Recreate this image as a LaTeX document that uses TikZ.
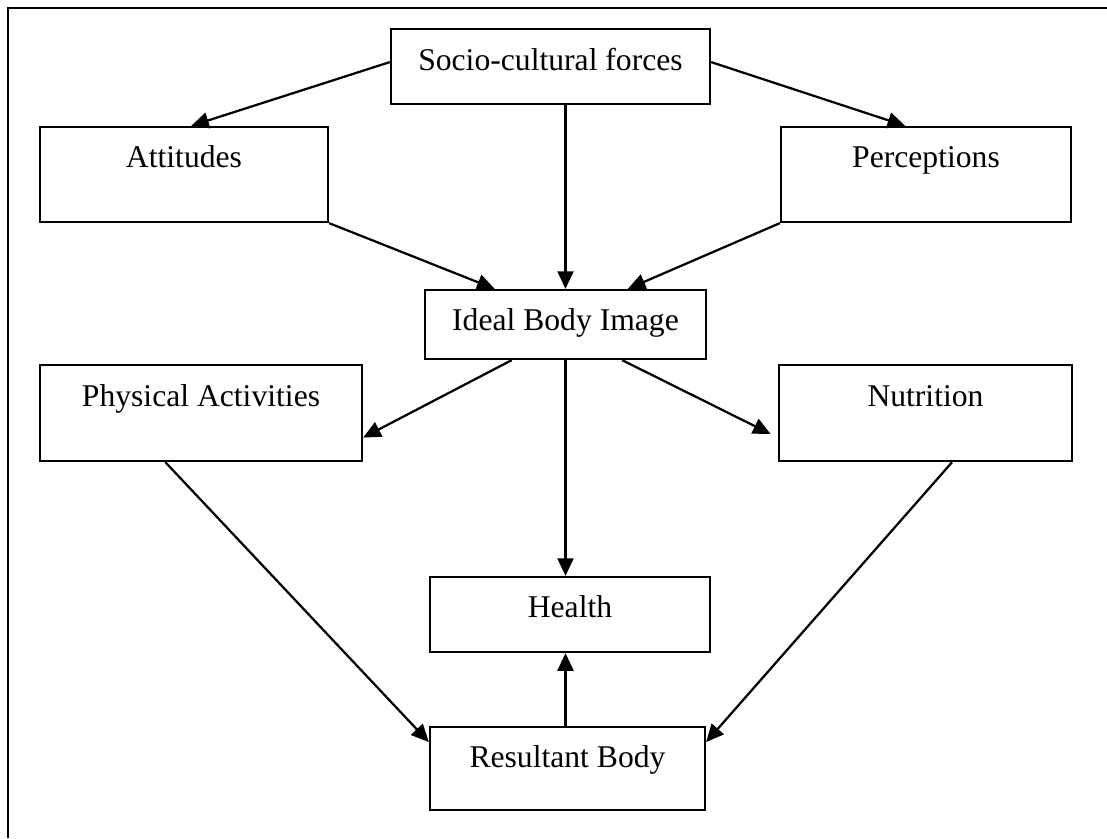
\documentclass[tikz,border=0pt]{standalone}
\usepackage{fontspec}
\setmainfont{Liberation Serif}
\usetikzlibrary{arrows.meta,calc}

\tikzset{
  blk/.style={draw, line width=1.6pt, inner sep=0pt, align=center,
    font=\fontsize{22.5}{27}\selectfont},
  arr/.style={line width=1.6pt, -{Triangle[length=0.44cm,width=0.4cm]}}
}

\begin{document}
\begin{tikzpicture}[x=0.025cm, y=-0.025cm]

    \useasboundingbox (0,0) rectangle (1107,838);

    % Frame, only top and left edges show
    \draw[line width=1.6pt] (8,838) -- (8,8) -- (1107,8);

    % Top row
    \node[blk, minimum width=7.975cm, minimum height=1.875cm, text height=0.18cm, text depth=0pt]
      (socio) at (550.5,66.5) {Socio-cultural forces};
    \node[blk, minimum width=7.2cm, minimum height=2.375cm, text height=0pt, text depth=0.375cm]
      (att) at (184,174.5) {Attitudes};
    \node[blk, minimum width=7.25cm, minimum height=2.375cm, text height=0pt, text depth=0.375cm]
      (perc) at (926,174.5) {Perceptions};

    % Middle row
    \node[blk, minimum width=7.025cm, minimum height=1.725cm, text height=0.275cm, text depth=0pt]
      (ideal) at (565.5,324.5) {Ideal Body Image};
    \node[blk, minimum width=8.05cm, minimum height=2.4cm, text height=0pt, text depth=0.35cm]
      (phys) at (201,413) {Physical Activities};
    \node[blk, minimum width=7.325cm, minimum height=2.4cm, text height=0pt, text depth=0.35cm]
      (nutri) at (925.5,413) {Nutrition};

    % Bottom
    \node[blk, minimum width=7cm, minimum height=1.875cm, text height=0.125cm, text depth=0pt]
      (health) at (570,614.5) {Health};
    \node[blk, minimum width=6.875cm, minimum height=2.075cm, text height=0pt, text depth=0.075cm]
      (res) at (567.5,768.5) {Resultant Body};

    % Arrows from the top box
    \draw[arr] ([yshift=0.11cm]socio.west) -- ([xshift=0.18cm]att.north);
    \draw[arr] ([yshift=0.11cm]socio.east) -- ([xshift=-0.52cm]perc.north);
    \draw[arr] (ideal.north |- socio.south) -- (ideal.north);

    % Into the ideal body image
    \draw[arr] (att.south east) -- ($(ideal.north west)!0.25!(ideal.north east)$);
    \draw[arr] (perc.south west) -- ($(ideal.north west)!0.72!(ideal.north east)$);

    % Out of the ideal body image
    \draw[arr] ($(ideal.south west)!0.31!(ideal.south east)$) -- ($(phys.north east)!0.75!(phys.south east)$);
    \draw[arr, shorten >=0.2cm] ($(ideal.south west)!0.70!(ideal.south east)$) -- ($(nutri.north west)!0.75!(nutri.south west)$);
    \draw[arr] (ideal.south) -- (ideal.south |- health.north);

    % Down to the resultant body
    \draw[arr] ($(phys.south west)!0.39!(phys.south east)$) -- ($(res.north west)!0.19!(res.south west)$);
    \draw[arr] ($(nutri.south west)!0.59!(nutri.south east)$) -- ($(res.north east)!0.19!(res.south east)$);
    \draw[arr] (ideal.south |- res.north) -- (ideal.south |- health.south);

\end{tikzpicture}
\end{document}
